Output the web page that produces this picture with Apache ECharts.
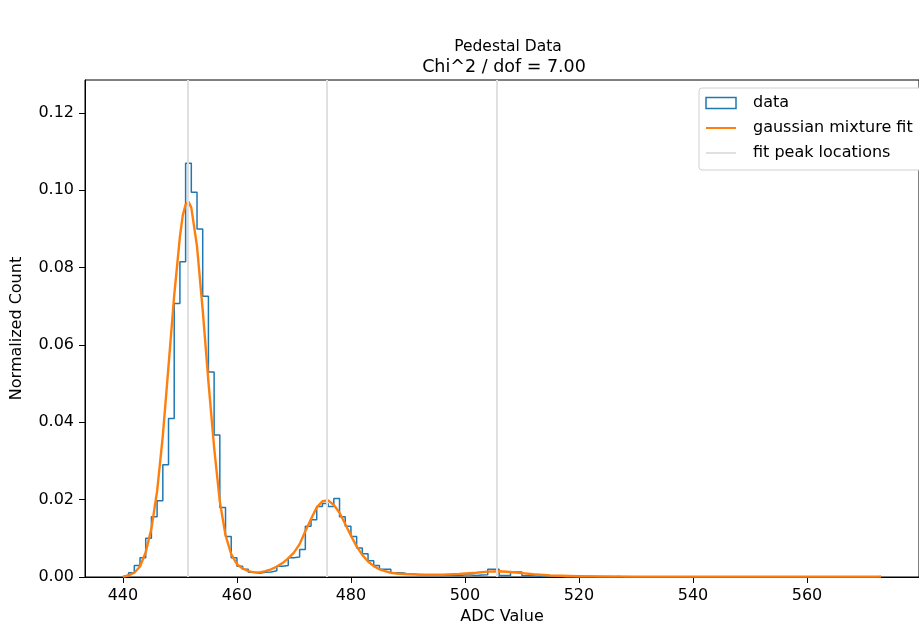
<!DOCTYPE html>
<html style="height: 100%;margin: 0;padding: 0;">
<head>
    <meta charset="utf-8">
    <title>Pedestal Data</title>
    <script src="https://cdn.jsdelivr.net/npm/echarts@6/dist/echarts.min.js"></script>
</head>
<body style="height: 100%;margin: 0;padding: 0;background:#fff;">
<div id="main" style="width:919px;height:630px;"></div>
<script type="text/javascript">
// histogram: bins of width 1, left edge of first bin at binStart
var binStart = 440;
var histCounts = [
    0.0005, 0.0011, 0.003, 0.005, 0.0100, 0.0156, 0.0197, 0.029, 0.041, 0.0707,   // 440-449
    0.0815, 0.107, 0.0995, 0.090, 0.0726, 0.053, 0.0367, 0.018, 0.0105, 0.005,     // 450-459
    0.0028, 0.002, 0.0012, 0.001, 0.0012, 0.0013, 0.0016, 0.0028, 0.003, 0.005,    // 460-469
    0.0052, 0.0071, 0.0131, 0.0148, 0.0182, 0.019, 0.0182, 0.0203, 0.0156, 0.0131, // 470-479
    0.0105, 0.0075, 0.006, 0.0042, 0.003, 0.002, 0.002, 0.0011, 0.0011, 0.0008,    // 480-489
    0.0008, 0.0006, 0.0006, 0.0005, 0.0005, 0.0004, 0.0005, 0.0004, 0.0004, 0.0005, // 490-499
    0.0005, 0.0004, 0.0005, 0.0006, 0.002, 0.002, 0.0004, 0.0004, 0.0013, 0.0013,  // 500-509
    0.0003, 0.0003, 0.0002, 0.0001, 0.0001, 0.0002, 0.0001, 0, 0.0001, 0,          // 510-519
    0, 0.0001, 0, 0, 0, 0, 0.0001, 0, 0, 0,                                        // 520-529
    0, 0, 0, 0, 0, 0, 0, 0, 0, 0,                                                  // 530-539
    0, 0, 0, 0, 0, 0, 0, 0, 0, 0,                                                  // 540-549
    0, 0, 0, 0, 0, 0, 0, 0, 0, 0,                                                  // 550-559
    0, 0, 0, 0, 0, 0, 0, 0, 0, 0,                                                  // 560-569
    0, 0, 0.0001                                                                   // 570-572
];

// gaussian mixture fit
var fitX = [440, 441, 442, 443, 444, 445, 446, 447, 448, 449,
            450, 450.5, 451, 451.5, 452, 453, 454, 455, 456, 457, 458, 459,
            460, 461, 462, 463, 464, 465, 466, 467, 468, 469,
            470, 471, 472, 473, 474, 475, 476, 477, 478, 479,
            480, 481, 482, 483, 484, 485, 486, 487, 488,
            490, 493, 496, 499, 502, 504, 506, 508, 510, 512, 515, 520, 530, 545, 560, 573];
var fitY = [0.0001, 0.0004, 0.0011, 0.0027, 0.0064, 0.0125, 0.0222, 0.0365, 0.0545, 0.0728,
            0.0880, 0.0935, 0.0963, 0.0970, 0.0955, 0.0855, 0.0690, 0.0505, 0.0335, 0.0195, 0.0108, 0.0059,
            0.0033, 0.0022, 0.0015, 0.0012, 0.0012, 0.0015, 0.002, 0.0027, 0.0036, 0.0048,
            0.0063, 0.0085, 0.0118, 0.015, 0.018, 0.0196, 0.0198, 0.0186, 0.0166, 0.0137,
            0.0107, 0.0079, 0.0057, 0.004, 0.0028, 0.002, 0.0015, 0.0011, 0.0009,
            0.0007, 0.0006, 0.0006, 0.0008, 0.0011, 0.0014, 0.0015, 0.0013, 0.001, 0.0007, 0.0004, 0.0002, 0.0001, 0.0001, 0.0001, 0.0001];

var peakLocs = [451.4, 475.7, 505.5];

var xTicks = [440, 460, 480, 500, 520, 540, 560];
var yTicks = [0, 0.02, 0.04, 0.06, 0.08, 0.10, 0.12];

var FONT = 'DejaVu Sans';

// step outline like matplotlib histtype='step'
var histData = [[binStart, 0]];
for (var i = 0; i < histCounts.length; i++) {
    histData.push([binStart + i, histCounts[i]]);
}
histData.push([binStart + histCounts.length, histCounts[histCounts.length - 1]]);
histData.push([binStart + histCounts.length, 0]);

var fitData = fitX.map(function (x, i) { return [x, fitY[i]]; });

var myChart = echarts.init(document.getElementById('main'), null, {renderer: 'canvas'});
var option = {
    animation: false,
    backgroundColor: '#fff',
    textStyle: {fontFamily: FONT},
    graphic: [
        {type: 'text', x: 508, y: 47, style: {text: 'Pedestal Data', font: '15.5px "DejaVu Sans"', fill: '#000', align: 'center', verticalAlign: 'middle'}},
        {type: 'text', x: 504, y: 67, style: {text: 'Chi^2 / dof = 7.00', font: '17.5px "DejaVu Sans"', fill: '#000', align: 'center', verticalAlign: 'middle'}}
    ],
    grid: {
        left: 85, top: 80, right: -12, bottom: 49,
        show: true, borderColor: '#000', borderWidth: 1, backgroundColor: 'transparent'
    },
    legend: {
        orient: 'vertical',
        left: 699, top: 88,
        padding: [7, 40, 9, 6],
        itemGap: 9,
        itemWidth: 30, itemHeight: 11,
        backgroundColor: '#fff',
        borderColor: '#d0d0d0', borderWidth: 1, borderRadius: 3,
        textStyle: {fontFamily: FONT, fontSize: 16, color: '#000', padding: [0, 0, 0, 12], lineHeight: 16},
        data: [
            {name: 'data', icon: 'rect', itemStyle: {color: '#fff', borderColor: '#1f77b4', borderWidth: 1.5}},
            {name: 'gaussian mixture fit', itemStyle: {opacity: 0}},
            {name: 'fit peak locations', itemStyle: {opacity: 0}}
        ]
    },
    xAxis: {
        type: 'value',
        min: 433.35, max: 579.65,
        name: 'ADC Value', nameLocation: 'middle', nameGap: 32,
        nameTextStyle: {fontFamily: FONT, fontSize: 16, color: '#000'},
        axisLine: {show: true, lineStyle: {color: '#000', width: 1}},
        axisTick: {show: true, length: 6, lineStyle: {color: '#000'}, customValues: xTicks},
        axisLabel: {fontFamily: FONT, fontSize: 16, color: '#000', margin: 11, customValues: xTicks},
        splitLine: {show: false}
    },
    yAxis: {
        type: 'value',
        min: 0, max: 0.1285,
        name: 'Normalized Count', nameLocation: 'middle', nameGap: 60, nameRotate: 90,
        nameTextStyle: {fontFamily: FONT, fontSize: 16, color: '#000'},
        axisLine: {show: true, lineStyle: {color: '#000', width: 1}},
        axisTick: {show: true, length: 6, lineStyle: {color: '#000'}, customValues: yTicks},
        axisLabel: {fontFamily: FONT, fontSize: 16, color: '#000', margin: 11, customValues: yTicks,
            formatter: function (v) { return v.toFixed(2); }},
        splitLine: {show: false}
    },
    series: [
        {
            name: 'data',
            type: 'line',
            step: 'end',
            data: histData,
            symbol: 'none',
            z: 3,
            itemStyle: {color: '#1f77b4'},
            lineStyle: {color: '#1f77b4', width: 1.5}
        },
        {
            name: 'gaussian mixture fit',
            type: 'line',
            data: fitData,
            smooth: false,
            symbol: 'none',
            z: 4,
            itemStyle: {color: '#ff7f0e'},
            lineStyle: {color: '#ff7f0e', width: 2.4, join: 'round'}
        },
        {
            name: 'fit peak locations',
            type: 'line',
            data: [],
            symbol: 'none',
            z: 1,
            itemStyle: {color: '#e0e0e0'},
            lineStyle: {color: '#e0e0e0', width: 1.5},
            markLine: {
                silent: true,
                symbol: ['none', 'none'],
                label: {show: false},
                lineStyle: {color: '#e0e0e0', width: 2, type: 'solid'},
                data: peakLocs.map(function (x) { return {xAxis: x}; })
            }
        }
    ]
};
myChart.setOption(option);
</script>
</body>
</html>
